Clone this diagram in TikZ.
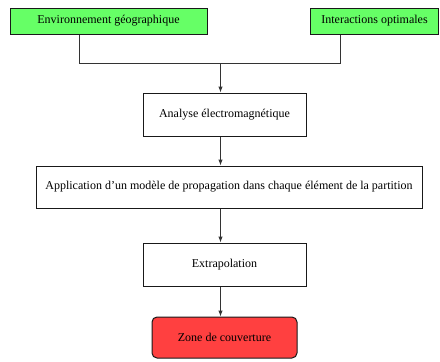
\documentclass[tikz,border=0pt]{standalone}
\usepackage{fontspec}
\setmainfont{Liberation Serif}
\usetikzlibrary{arrows.meta,calc}
\begin{document}
\begin{tikzpicture}[x=1pt,y=-1pt,
  box/.style={draw=black!90,line width=1pt,inner sep=0pt,font=\fontsize{12}{14}\selectfont},
  srcbox/.style={box,fill=green!60!white},
  endbox/.style={box,fill=red!75!white,rounded corners=5pt},
  link/.style={draw=black!80,line width=1pt},
  flow/.style={link,-{Latex[length=6pt,width=4.5pt]}}]
\useasboundingbox (0,0) rectangle (440,362);
% input boxes
\node[srcbox,minimum width=197pt,minimum height=26pt] (env) at (108.5,21) {Environnement géographique};
\node[srcbox,minimum width=128pt,minimum height=26pt] (inter) at (374.5,21) {Interactions optimales};
% processing chain
\node[box,minimum width=163pt,minimum height=43pt] (an) at (224.5,114.5) {Analyse électromagnétique};
\node[box,minimum width=386pt,minimum height=42pt] (app) at (229,187) {Application d’un modèle de propagation dans chaque élément de la partition};
\node[box,minimum width=163pt,minimum height=43pt] (ex) at (224.5,264.5) {Extrapolation};
\node[endbox,minimum width=145pt,minimum height=41pt] (zone) at (224.5,337.5) {Zone de couverture};
% merging the two inputs
\coordinate (jl) at (79,63);
\coordinate (jr) at (340.5,63);
\coordinate (jm) at (220.5,63);
\draw[link] (env.south -| jl) -- (jl) -- (jr) -- (inter.south -| jr);
\draw[flow] (jm) -- (jm |- an.north);
\draw[flow] (an.south -| jm) -- (app.north -| jm);
\draw[flow] (app.south -| jm) -- (ex.north -| jm);
\draw[flow] (ex.south -| jm) -- (zone.north -| jm);
\end{tikzpicture}
\end{document}
